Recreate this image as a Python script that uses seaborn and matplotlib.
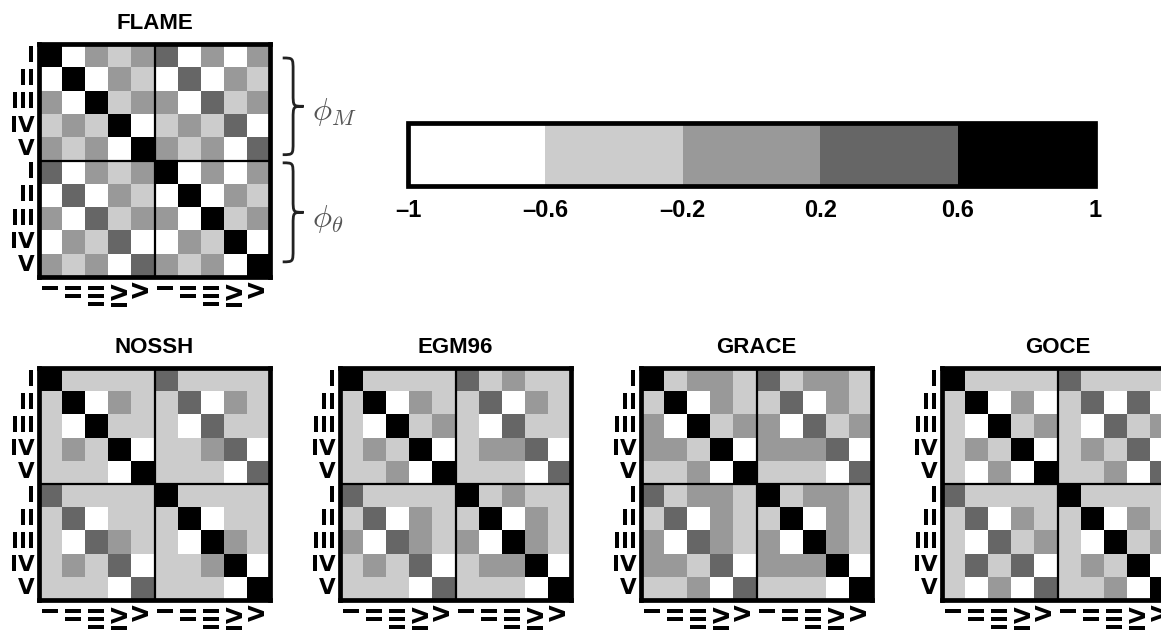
import matplotlib
matplotlib.use("Agg")
import matplotlib.pyplot as plt
import numpy as np
import seaborn as sns
from matplotlib.colors import ListedColormap
from matplotlib.path import Path
from matplotlib.patches import PathPatch

# gray levels of the five correlation classes
level_colors = ["#ffffff", "#cccccc", "#999999", "#666666", "#000000"]
cbar_ticks = [-1, -0.6, -0.2, 0.2, 0.6, 1]
cbar_labels = ["\u20131", "\u20130.6", "\u20130.2", "0.2", "0.6", "1"]
roman = ["I", "II", "III", "IV", "V"] * 2

# correlation matrices (class mid values)
flame = [
    [1, -.8, 0, -.4, 0, .4, -.8, 0, -.8, 0],
    [-.8, 1, -.8, 0, -.4, -.8, .4, -.8, 0, -.4],
    [0, -.8, 1, -.4, 0, 0, -.8, .4, -.4, 0],
    [-.4, 0, -.4, 1, -.8, -.4, 0, -.4, .4, -.8],
    [0, -.4, 0, -.8, 1, 0, -.4, 0, -.8, .4],
    [.4, -.8, 0, -.4, 0, 1, -.8, 0, -.8, 0],
    [-.8, .4, -.8, 0, -.4, -.8, 1, -.8, 0, -.4],
    [0, -.8, .4, -.4, 0, 0, -.8, 1, -.4, 0],
    [-.8, 0, -.4, .4, -.8, -.8, 0, -.4, 1, -.8],
    [0, -.4, 0, -.8, .4, 0, -.4, 0, -.8, 1],
]
nossh = [
    [1, -.4, -.4, -.4, -.4, .4, -.4, -.4, -.4, -.4],
    [-.4, 1, -.8, 0, -.4, -.4, .4, -.8, 0, -.4],
    [-.4, -.8, 1, -.4, -.4, -.4, -.8, .4, -.4, -.4],
    [-.4, 0, -.4, 1, -.8, -.4, -.4, 0, .4, -.8],
    [-.4, -.4, -.4, -.8, 1, -.4, -.4, -.4, -.8, .4],
    [.4, -.4, -.4, -.4, -.4, 1, -.4, -.4, -.4, -.4],
    [-.4, .4, -.8, -.4, -.4, -.4, 1, -.8, -.4, -.4],
    [-.4, -.8, .4, 0, -.4, -.4, -.8, 1, 0, -.4],
    [-.4, 0, -.4, .4, -.8, -.4, -.4, 0, 1, -.8],
    [-.4, -.4, -.4, -.8, .4, -.4, -.4, -.4, -.8, 1],
]
egm96 = [
    [1, -.4, -.4, -.4, -.4, .4, -.4, 0, -.4, -.4],
    [-.4, 1, -.8, 0, -.4, -.4, .4, -.8, 0, -.4],
    [-.4, -.8, 1, -.4, 0, -.4, -.8, .4, -.4, -.4],
    [-.4, 0, -.4, 1, -.8, -.4, 0, 0, .4, -.8],
    [-.4, -.4, 0, -.8, 1, -.4, -.4, -.4, -.8, .4],
    [.4, -.4, -.4, -.4, -.4, 1, -.4, 0, -.4, -.4],
    [-.4, .4, -.8, 0, -.4, -.4, 1, -.8, 0, -.4],
    [0, -.8, .4, 0, -.4, 0, -.8, 1, 0, -.4],
    [-.4, 0, -.4, .4, -.8, -.4, 0, 0, 1, -.8],
    [-.4, -.4, -.4, -.8, .4, -.4, -.4, -.4, -.8, 1],
]
grace = [
    [1, -.4, 0, 0, -.4, .4, -.4, 0, 0, -.4],
    [-.4, 1, -.8, 0, -.4, -.4, .4, -.8, 0, -.4],
    [0, -.8, 1, -.4, 0, 0, -.8, .4, -.4, 0],
    [0, 0, -.4, 1, -.8, 0, 0, 0, .4, -.8],
    [-.4, -.4, 0, -.8, 1, -.4, -.4, -.4, -.8, .4],
    [.4, -.4, 0, 0, -.4, 1, -.4, 0, 0, -.4],
    [-.4, .4, -.8, 0, -.4, -.4, 1, -.8, 0, -.4],
    [0, -.8, .4, 0, -.4, 0, -.8, 1, 0, -.4],
    [0, 0, -.4, .4, -.8, 0, 0, 0, 1, -.8],
    [-.4, -.4, 0, -.8, .4, -.4, -.4, -.4, -.8, 1],
]
goce = [
    [1, -.4, -.4, -.4, -.4, .4, -.4, -.4, -.4, -.4],
    [-.4, 1, -.8, 0, -.8, -.4, .4, -.8, .4, -.8],
    [-.4, -.8, 1, -.4, 0, -.4, -.8, .4, -.4, 0],
    [-.4, 0, -.4, 1, -.8, -.4, 0, -.4, .4, -.8],
    [-.4, -.8, 0, -.8, 1, -.4, -.4, 0, -.8, .4],
    [.4, -.4, -.4, -.4, -.4, 1, -.4, -.4, -.4, -.4],
    [-.4, .4, -.8, 0, -.4, -.4, 1, -.8, 0, -.4],
    [-.4, -.8, .4, -.4, 0, -.4, -.8, 1, -.4, 0],
    [-.4, .4, -.4, .4, -.8, -.4, 0, -.4, 1, -.8],
    [-.4, -.8, 0, -.8, .4, -.4, -.4, 0, -.8, 1],
]

sns.set_style("white")
plt.rcParams["font.family"] = ["Liberation Sans", "DejaVu Sans"]
plt.rcParams["font.weight"] = "bold"
plt.rcParams["mathtext.fontset"] = "cm"
plt.rcParams["text.color"] = "black"
plt.rcParams["xtick.color"] = "black"
plt.rcParams["ytick.color"] = "black"
plt.rcParams["axes.titlecolor"] = "black"

cmap = ListedColormap(level_colors)
W, H = 1161, 631
fig = plt.figure(figsize=(W / 100, H / 100), dpi=100)


def px_axes(left, top, width, height):
    """Axes placed by pixel box (top-left origin)."""
    return fig.add_axes([left / W, 1 - (top + height) / H, width / W, height / H])


def draw_matrix(ax, data, title, cbar_ax=None):
    sns.heatmap(
        np.array(data), ax=ax, cmap=cmap, vmin=-1, vmax=1,
        xticklabels=roman, yticklabels=roman,
        cbar=cbar_ax is not None, cbar_ax=cbar_ax,
        cbar_kws={"orientation": "horizontal", "ticks": cbar_ticks} if cbar_ax else None,
    )
    ax.axhline(5, color="black", lw=1.6)
    ax.axvline(5, color="black", lw=1.6)
    for sp in ax.spines.values():
        sp.set_visible(True)
        sp.set_linewidth(3.4)
        sp.set_color("black")
    ax.tick_params(length=0, pad=3, colors="black")
    ax.set_xticklabels(roman, rotation=90, fontsize=15.5, family="DejaVu Sans",
                       fontweight="heavy", color="black")
    ax.set_yticklabels(roman, rotation=0, fontsize=15.5, family="DejaVu Sans",
                       fontweight="heavy", color="black")
    ax.set_title(title, fontsize=16, fontweight="bold", pad=11, color="black")


def draw_brace(ax, x0, y_top, y_bot, width, r):
    h = width / 2
    ym = (y_top + y_bot) / 2
    verts = [
        (x0, y_top), (x0 + h, y_top), (x0 + h, y_top), (x0 + h, y_top + r),
        (x0 + h, ym - r),
        (x0 + h, ym), (x0 + h, ym), (x0 + width, ym),
        (x0 + h, ym), (x0 + h, ym), (x0 + h, ym + r),
        (x0 + h, y_bot - r),
        (x0 + h, y_bot), (x0 + h, y_bot), (x0, y_bot),
    ]
    codes = [Path.MOVETO, Path.CURVE4, Path.CURVE4, Path.CURVE4, Path.LINETO,
             Path.CURVE4, Path.CURVE4, Path.CURVE4, Path.CURVE4, Path.CURVE4, Path.CURVE4,
             Path.LINETO, Path.CURVE4, Path.CURVE4, Path.CURVE4]
    ax.add_patch(PathPatch(Path(verts, codes), fill=False, lw=2, color="#222222", clip_on=False))


# top panel with colour bar
ax_flame = px_axes(39, 44, 231, 233)
cax = px_axes(408, 123, 687, 63)
draw_matrix(ax_flame, flame, "FLAME", cbar_ax=cax)

cbar = ax_flame.collections[0].colorbar
cbar.outline.set_linewidth(3.4)
cbar.outline.set_edgecolor("black")
cbar.set_ticks(cbar_ticks)
cbar.set_ticklabels(cbar_labels)
cax.tick_params(direction="in", length=4, width=2.5, top=True, bottom=True,
                labelsize=17, pad=9, colors="black")
for lbl in cax.get_xticklabels():
    lbl.set_fontweight("bold")
    lbl.set_color("black")

draw_brace(ax_flame, 10.55, 0.6, 4.75, 0.9, 0.55)
draw_brace(ax_flame, 10.55, 5.1, 9.35, 0.9, 0.55)
ax_flame.text(11.8, 2.9, r"$\phi_M$", fontsize=23, color="#555555", va="center", ha="left")
ax_flame.text(11.8, 7.5, r"$\phi_\theta$", fontsize=23, color="#555555", va="center", ha="left")

# bottom row
for left, data, title in [(39, nossh, "NOSSH"), (340, egm96, "EGM96"),
                          (641, grace, "GRACE"), (942, goce, "GOCE")]:
    ax = px_axes(left, 368, 231, 232)
    draw_matrix(ax, data, title)

fig.savefig("out.png", dpi=100)
